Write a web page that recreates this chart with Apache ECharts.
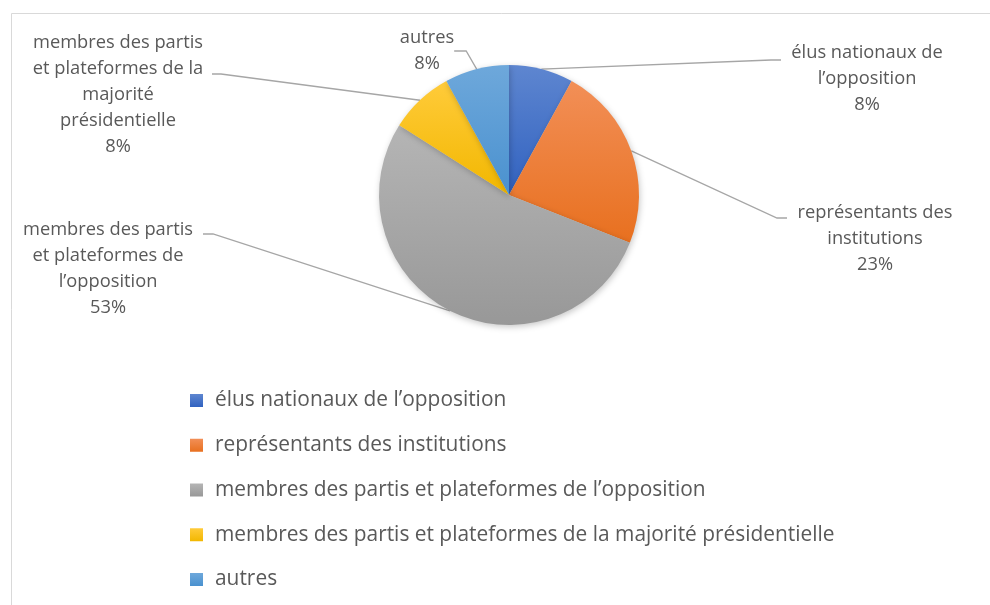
<!DOCTYPE html>
<html>
<head>
<meta charset="utf-8">
<script src="https://cdn.jsdelivr.net/npm/echarts@6/dist/echarts.min.js"></script>
<style>
  html, body { margin: 0; padding: 0; background: #fff; }
  #chart { width: 990px; height: 605px; }
</style>
</head>
<body>
<div id="chart"></div>
<script>
// Répartition des participants par catégorie
const categories = [
  'élus nationaux de l’opposition',
  'représentants des institutions',
  'membres des partis et plateformes de l’opposition',
  'membres des partis et plateformes de la majorité présidentielle',
  'autres'
];
const shares = [8, 23, 53, 8, 8];
// Noms coupés sur plusieurs lignes pour les étiquettes du camembert
const wrappedNames = [
  'élus nationaux de\nl’opposition',
  'représentants des\ninstitutions',
  'membres des partis\net plateformes de\nl’opposition',
  'membres des partis\net plateformes de la\nmajorité\nprésidentielle',
  'autres'
];
// Couleurs des parts (clair en haut, foncé en bas)
const sliceColors = [
  ['#5E86D0', '#3162C0'],
  ['#F28F57', '#E8701F'],
  ['#B5B5B5', '#989898'],
  ['#FFCB3A', '#F2B700'],
  ['#6EA8DB', '#4A91CF']
];

// Emplacement des étiquettes : centre du bloc, haut du bloc, amorce du trait
const labelSpots = [
  { x: 867, y: 40,  tail: [[771, 60], [781, 60]] },
  { x: 875, y: 200, tail: [[777, 218], [787, 218]] },
  { x: 108, y: 217, tail: [[213, 234], [203, 234]] },
  { x: 118, y: 30,  tail: [[221, 74], [212, 74]] },
  { x: 427, y: 25,  tail: null }
];

const FONT = '"Open Sans", "Noto Sans", sans-serif';
const TEXT = '#595959';

const chart = echarts.init(document.getElementById('chart'), null, { renderer: 'canvas' });

const data = categories.map((name, i) => ({
  name: name,
  value: shares[i],
  itemStyle: {
    color: {
      type: 'linear', x: 0, y: 0, x2: 0, y2: 1,
      colorStops: [
        { offset: 0, color: sliceColors[i][0] },
        { offset: 1, color: sliceColors[i][1] }
      ]
    }
  }
}));

chart.setOption({
  animation: false,
  backgroundColor: '#ffffff',
  graphic: [{
    type: 'rect',
    silent: true,
    z: -10,
    shape: { x: 11.5, y: 13.5, width: 1200, height: 800 },
    style: { fill: 'none', stroke: '#D9D9D9', lineWidth: 1 }
  }],
  legend: {
    orient: 'vertical',
    left: 185,
    top: 385,
    itemWidth: 13,
    itemHeight: 13,
    itemGap: 23.75,
    icon: 'rect',
    textStyle: {
      fontFamily: FONT,
      fontSize: 20.9,
      lineHeight: 21,
      color: TEXT,
      padding: [0, 0, 0, 7]
    },
    data: categories
  },
  series: [{
    type: 'pie',
    center: [509, 195],
    radius: 130,
    startAngle: 90,
    clockwise: true,
    avoidLabelOverlap: false,
    itemStyle: {
      borderWidth: 0,
      shadowBlur: 6,
      shadowColor: 'rgba(0,0,0,0.22)',
      shadowOffsetX: 1,
      shadowOffsetY: 2
    },
    emphasis: { disabled: true },
    label: {
      show: true,
      position: 'outside',
      fontFamily: FONT,
      fontSize: 18.3,
      lineHeight: 26,
      color: TEXT,
      align: 'center',
      formatter: p => wrappedNames[p.dataIndex] + '\n' + p.percent + '%'
    },
    labelLine: {
      show: true,
      length: 10,
      length2: 12,
      lineStyle: { color: '#A6A6A6', width: 1.3 }
    },
    labelLayout: params => {
      const spot = labelSpots[params.dataIndex];
      const out = { x: spot.x, y: spot.y, align: 'center', verticalAlign: 'top' };
      if (spot.tail && params.labelLinePoints) {
        out.labelLinePoints = [params.labelLinePoints[0], spot.tail[0], spot.tail[1]];
      }
      return out;
    },
    data: data
  }]
});
</script>
</body>
</html>
